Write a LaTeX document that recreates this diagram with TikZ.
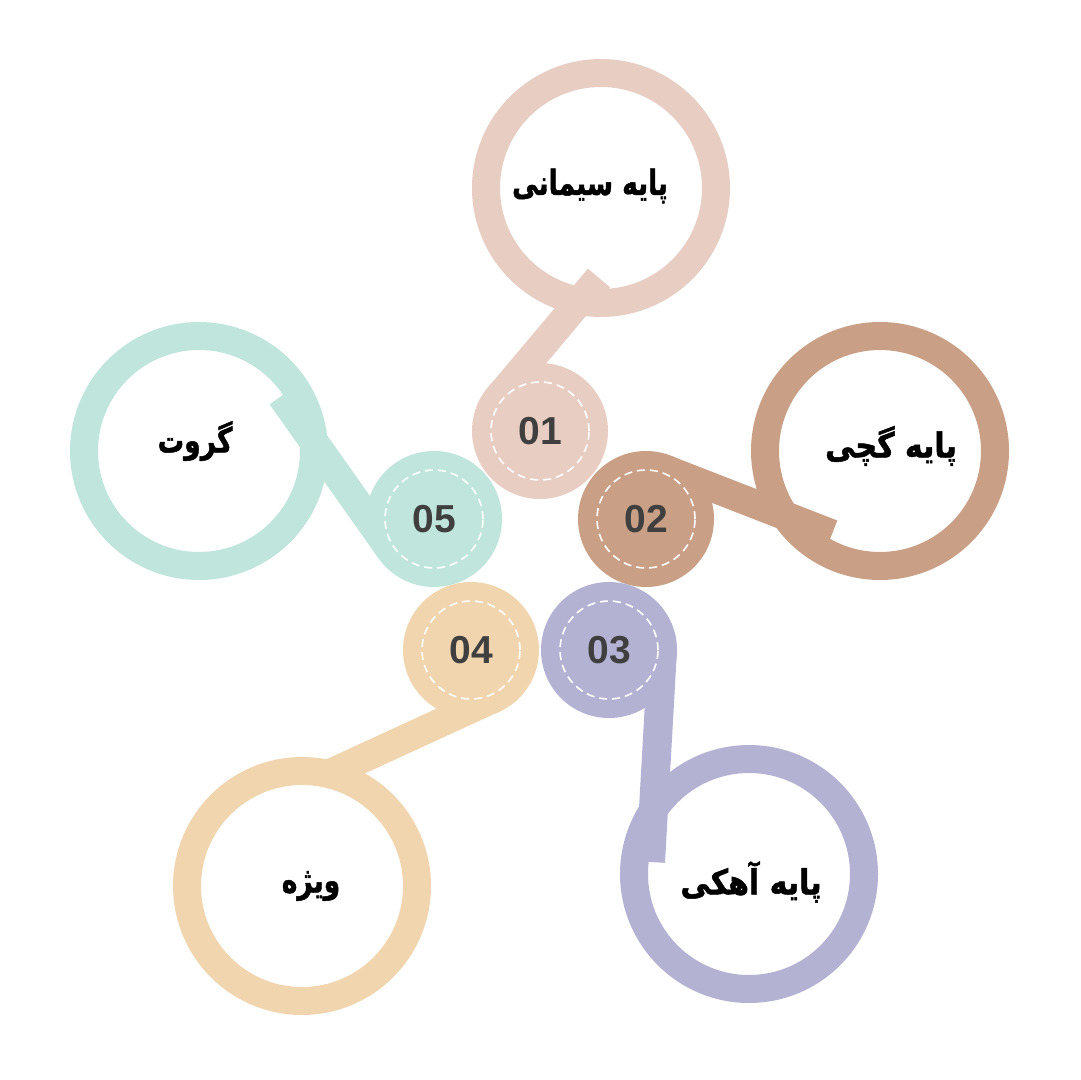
\documentclass[tikz,border=0pt]{standalone}
\usepackage{fontspec}
\setsansfont{Liberation Sans}
\newfontfamily\arabicfont[Script=Arabic, BoldFeatures={FakeBold=1.5}]{DejaVu Sans}
\TeXXeTstate=1
\definecolor{cpink}{HTML}{E8CDC2}
\definecolor{cbrown}{HTML}{C9A085}
\definecolor{clav}{HTML}{B3B2D3}
\definecolor{ctan}{HTML}{F0D5AF}
\definecolor{cmint}{HTML}{BFE5DC}
\definecolor{numgray}{HTML}{3F3F3F}
\begin{document}
\begin{tikzpicture}[x=0.5pt,y=-0.5pt,
  ring/.style={circle, draw=#1, line width=14pt, minimum size=115pt, inner sep=0pt},
  hub/.style={circle, fill=#1, minimum size=68pt, inner sep=0pt,
    font=\sffamily\bfseries\fontsize{19.5}{20}\selectfont, text=numgray},
  tail/.style={draw=#1, line width=14.5pt},
  dashring/.style={draw=white, line width=0.8pt, dash pattern=on 4pt off 2.5pt},
  lbl/.style={font=\arabicfont\bfseries\fontsize{15}{18}\selectfont, text=black, inner sep=0pt}]
\useasboundingbox (0,0) rectangle (1080,1080);
\fill[white] (0,0) rectangle (1080,1080);

% rings
\node[ring=cpink]  (r1) at (601,188) {};
\node[ring=cbrown] (r2) at (880,451) {};
\node[ring=clav]   (r3) at (749,874) {};
\node[ring=ctan]   (r4) at (302,886) {};
\node[ring=cmint]  (r5) at (199,451) {};

% tail end points (tangent to the hub circles)
\coordinate (s1) at (499.3,396.6);   \coordinate (e1) at (599,278);
\coordinate (s2) at (665.4,469.2);   \coordinate (e2) at (832,534);
\coordinate (s3) at (662.3,653.0);   \coordinate (e3) at (650.5,862);
\coordinate (s4) at (493.2,698.5);   \coordinate (e4) at (329,774);
\coordinate (s5) at (390.3,549.9);   \coordinate (e5) at (281.5,396);

\draw[tail=cpink]  (s1) -- (e1);
\draw[tail=cbrown] (s2) -- (e2);
\draw[tail=clav]   (s3) -- (e3);
\draw[tail=ctan]   (s4) -- (e4);
\draw[tail=cmint]  (s5) -- (e5);

% hubs
\node[hub=cpink]  (h1) at (540,431) {01};
\node[hub=cbrown] (h2) at (646,519) {02};
\node[hub=clav]   (h3) at (609,650) {03};
\node[hub=ctan]   (h4) at (471,650) {04};
\node[hub=cmint]  (h5) at (434,519) {05};
\foreach \h in {h1,h2,h3,h4,h5}
  \draw[dashring] (\h.center) circle[radius=24.5pt];

% labels
\node[lbl] (t1) at (590,186) {\scalebox{0.88}[1.15]{\beginR پایه سیمانی\endR}};
\node[lbl] (t2) at (891,446) {\scalebox{1.0}[1.15]{\beginR پایه گچی\endR}};
\node[lbl] (t3) at (751,882) {\scalebox{1.0}[1.15]{\beginR پایه آهکی\endR}};
\node[lbl] (t4) at (311,886) {\scalebox{0.88}[1.15]{\beginR ویژه\endR}};
\node[lbl] (t5) at (195,441) {\scalebox{0.88}[1.15]{\beginR گروت\endR}};
\end{tikzpicture}
\end{document}
